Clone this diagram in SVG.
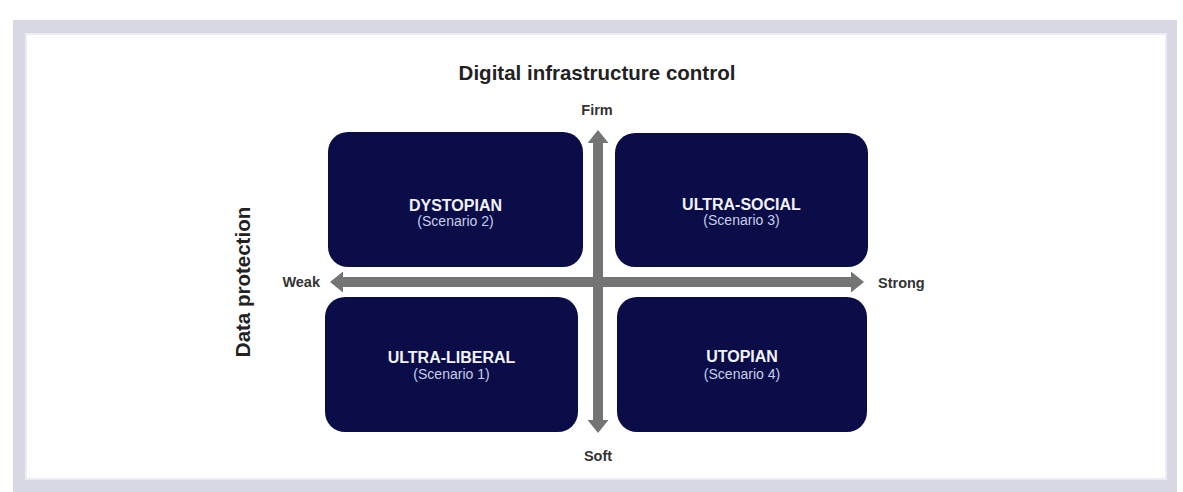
<svg xmlns="http://www.w3.org/2000/svg" width="1183" height="492" viewBox="0 0 1183 492">
  <style>
    .frame { fill: #d8d8e5; }
    .panel { fill: #ffffff; stroke: #ececf4; stroke-width: 2; }
    .box { fill: #0a0d48; }
    .name { font-family: "Liberation Sans", Arial, sans-serif; font-weight: bold; font-size: 16px; fill: #f2f3fa; text-anchor: middle; }
    .sub { font-family: "Liberation Sans", Arial, sans-serif; font-size: 14px; fill: #c9cde8; text-anchor: middle; }
    .title { font-family: "Liberation Sans", Arial, sans-serif; font-weight: bold; font-size: 20.5px; fill: #222222; }
    .pole { font-family: "Liberation Sans", Arial, sans-serif; font-weight: bold; font-size: 14.5px; fill: #333333; }
    .axis { stroke: #747474; stroke-width: 10; fill: none; marker-start: url(#head); marker-end: url(#head); }
  </style>
  <defs>
    <marker id="head" markerUnits="userSpaceOnUse" markerWidth="13" markerHeight="21" refX="0" refY="10.5" orient="auto-start-reverse" viewBox="0 0 13 21">
      <path d="M0,0 L13,10.5 L0,21 Z" fill="#747474"/>
    </marker>
  </defs>

  <!-- page frame -->
  <rect class="frame" x="13" y="20" width="1164" height="472"/>
  <rect class="panel" x="26" y="34" width="1140" height="445"/>

  <!-- axis titles -->
  <text class="title" x="597" y="80" text-anchor="middle">Digital infrastructure control</text>
  <text class="title" transform="translate(250,282) rotate(-90)" text-anchor="middle">Data protection</text>

  <!-- quadrant boxes -->
  <g id="dystopian">
    <rect class="box" x="328" y="132" width="255" height="135" rx="20"/>
    <text class="name" x="455.5" y="211">DYSTOPIAN</text>
    <text class="sub" x="455.5" y="226">(Scenario 2)</text>
  </g>
  <g id="ultra-social">
    <rect class="box" x="615" y="133" width="253" height="134" rx="20"/>
    <text class="name" x="741.5" y="210">ULTRA-SOCIAL</text>
    <text class="sub" x="741.5" y="225">(Scenario 3)</text>
  </g>
  <g id="ultra-liberal">
    <rect class="box" x="325" y="297" width="253" height="135" rx="20"/>
    <text class="name" x="451.5" y="363">ULTRA-LIBERAL</text>
    <text class="sub" x="451.5" y="379">(Scenario 1)</text>
  </g>
  <g id="utopian">
    <rect class="box" x="617" y="297" width="250" height="135" rx="20"/>
    <text class="name" x="742" y="362">UTOPIAN</text>
    <text class="sub" x="742" y="379">(Scenario 4)</text>
  </g>

  <!-- axes -->
  <g id="connectors">
    <line class="axis" x1="598" y1="143" x2="598" y2="420"/>
    <line class="axis" x1="343" y1="282" x2="851" y2="282"/>
  </g>

  <!-- axis end labels -->
  <g id="poles">
    <text class="pole" x="597" y="115" text-anchor="middle">Firm</text>
    <text class="pole" x="598" y="461" text-anchor="middle">Soft</text>
    <text class="pole" x="320" y="287" text-anchor="end">Weak</text>
    <text class="pole" x="878" y="288">Strong</text>
  </g>
</svg>
